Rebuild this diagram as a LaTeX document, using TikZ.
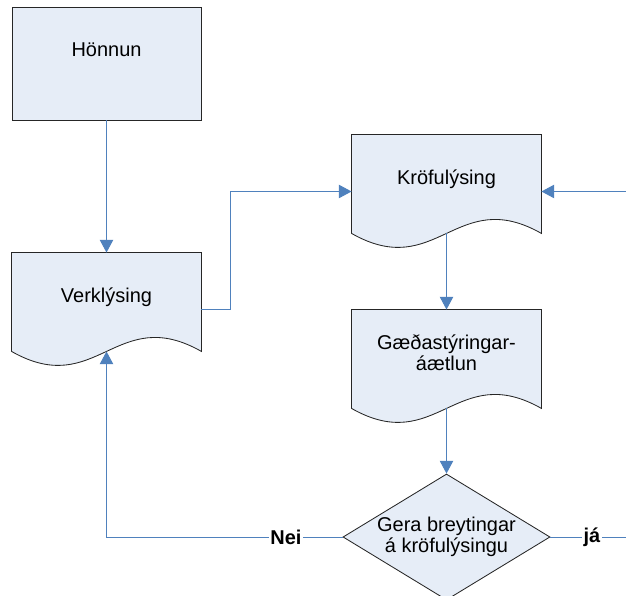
\documentclass[tikz,border=0pt]{standalone}
\usepackage{fontspec}
\setmainfont{Liberation Sans}
\usetikzlibrary{arrows.meta,shapes.geometric,backgrounds}
\definecolor{boxfill}{RGB}{230,237,247}
\definecolor{flowblue}{RGB}{79,129,189}
\tikzset{
  box/.style={draw=black!85, fill=boxfill, line width=0.6pt,
    minimum width=4.725cm, minimum height=2.825cm, text depth=20pt,
    align=center, font=\fontsize{14.2}{15}\selectfont},
  doc/.style={box, draw=none, fill=none},
  decision/.style={diamond, aspect=1.64, draw=black!85, fill=boxfill, line width=0.6pt,
    minimum width=5.175cm, minimum height=3.15cm, inner sep=-1pt,
    align=center, font=\fontsize{14.2}{15}\selectfont},
  line/.style={draw=flowblue, line width=0.7pt},
  flow/.style={line, -{Triangle[length=9pt,width=9.5pt]}},
  answer/.style={fill=white, inner sep=1pt, font=\fontsize{14.2}{15}\selectfont\bfseries}
}
\newcommand\docshape[1]{%
  \begin{scope}[on background layer]
    \filldraw[draw=black!85, fill=boxfill, line width=0.6pt]
      (#1.north west) -- (#1.north east) -- ([yshift=0.375cm]#1.south east)
      .. controls +(-2.13cm,1.21cm) and +(2.13cm,-1.21cm) .. ([yshift=0.375cm]#1.south west)
      -- cycle;
  \end{scope}}
\begin{document}
\begin{tikzpicture}[x=0.025cm,y=-0.025cm]
  \useasboundingbox (0,0) rectangle (626,596);
  \node[box] (hon) at (106.5,63.5) {Hönnun};
  \node[doc] (verk) at (106.5,309.5) {Verklýsing};
  \node[doc] (kro) at (446.5,191.5) {Kröfulýsing};
  \node[doc] (gaed) at (446.5,366.5) {Gæðastýringar-\\áætlun};
  \node[decision] (chg) at (446.5,537) {Gera breytingar\\á kröfulýsingu};
  \docshape{verk}
  \docshape{kro}
  \docshape{gaed}
  \coordinate (inR) at (626,191.5);
  \coordinate (outR) at (626,537);

  \draw[flow] (hon) -- (verk);
  \draw[flow] (verk.east) -- ++(29,0) |- (kro.west);
  \draw[flow] (inR) -- (kro.east);
  \draw[flow] ([yshift=0.375cm]kro.south) -- (gaed.north);
  \draw[flow] ([yshift=0.375cm]gaed.south) -- (chg.north);
  \draw[flow] (chg.west) -| node[answer,pos=0.12] {Nei} ([yshift=0.375cm]verk.south);
  \draw[line] (chg.east) -- node[answer,pos=0.55] {já} (outR);
\end{tikzpicture}
\end{document}
